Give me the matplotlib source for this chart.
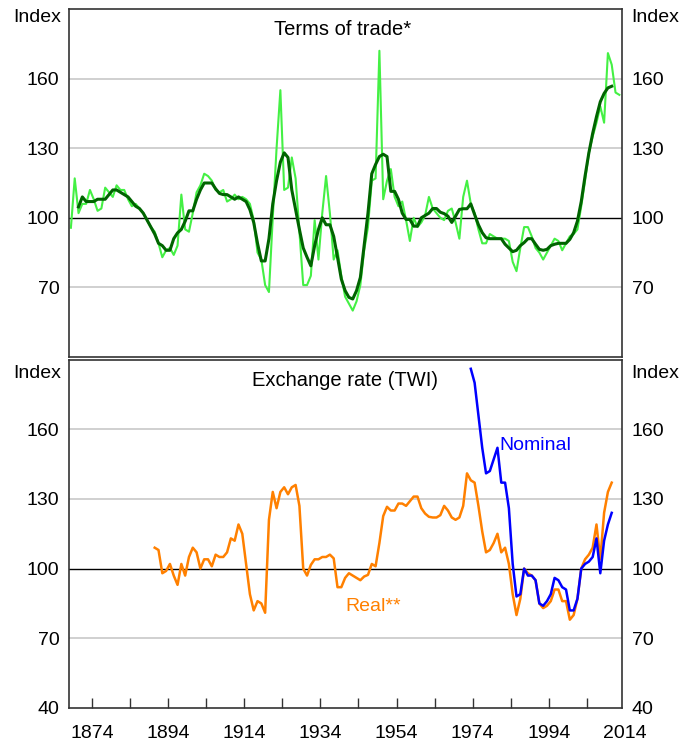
import numpy as np
import matplotlib.pyplot as plt

plt.rcParams['font.family'] = ['Liberation Sans', 'DejaVu Sans']

# Terms of trade, annual, 1869-2013
tot_years = list(range(1869, 2014))
tot_annual = [
    95.7, 117, 102, 106, 106, 112, 108, 103, 104, 113,
    111, 109, 114, 112, 112, 108, 105, 106, 104, 102,
    99, 96, 94, 89, 83, 86, 87, 84, 88, 110,
    95, 94, 102, 111, 114, 119, 118, 116, 112, 111,
    112, 107, 108, 110, 108, 109, 108, 106, 99, 85,
    82, 71, 68, 100, 130, 155, 112, 113, 126, 117,
    94, 71, 71, 75, 99, 82, 102, 118, 102, 82,
    86, 75, 66, 63, 60, 64, 71, 86, 96, 116,
    117, 172, 108, 116, 121, 109, 105, 107, 99, 90,
    100, 96, 98, 101, 109, 104, 102, 100, 99, 103,
    104, 98, 91, 109, 116, 106, 102, 95, 89, 89,
    93, 92, 91, 91, 91, 90, 81, 77, 87, 96,
    96, 92, 87, 85, 82, 85, 88, 91, 90, 86,
    89, 92, 93, 95, 105, 116, 128, 135, 141, 148,
    141, 171, 166, 154, 153,
]

# Terms of trade, smoothed, 1871-2011
tot_smooth_years = list(range(1871, 2012))
tot_smooth = [
    104.7, 109, 107, 107, 107, 108, 108, 108, 110, 112,
    112, 111, 110, 109, 107, 105, 104, 102, 99, 96,
    93, 89, 88, 86, 86, 91, 93.5, 95, 98.5, 103,
    103, 108, 112, 115, 115, 115, 112.5, 110.5, 110, 110,
    109, 108, 109, 108, 107, 103.5, 98, 89, 81.4, 81.4,
    91, 106, 116, 124, 128, 126, 112, 103.5, 95, 87,
    83, 79.3, 88, 95, 100, 97, 97, 92, 83, 73.6,
    68.6, 65.7, 65, 68.6, 74.3, 88, 102, 119, 123, 126.4,
    127.4, 126.4, 111.4, 111.4, 108, 102, 99.3, 99.3, 96.4, 96.4,
    100, 101, 102, 104, 104, 102.4, 101.8, 100.7, 98, 100.7,
    103.6, 103.9, 103.9, 106, 101.4, 97, 93.6, 91.4, 91, 91,
    91, 91, 88.6, 87, 85.4, 86, 88, 89.3, 91, 91,
    88.6, 86.4, 86, 86.4, 88, 88.6, 89, 89, 89, 90.7,
    93.6, 98.6, 107, 118, 128, 136.4, 143.6, 150, 153.6, 156,
    156.7,
]

# Exchange rate (TWI), real 1891-2011, nominal 1974-2011
real_years = list(range(1891, 2012))
real_twi = [
    109, 108, 98, 99, 102, 97, 93, 102, 97, 105,
    109, 107, 100, 104, 104, 101, 106, 105, 105, 107,
    113, 112, 119, 115, 102, 89, 82, 86, 85, 81,
    121, 133, 126, 133, 135, 132, 135, 136, 127, 100,
    97, 101.6, 104, 104, 105, 105, 106, 104.4, 92, 92,
    96, 98, 97, 96, 95, 96.6, 97.3, 102, 101, 111,
    122.6, 126.6, 125, 125, 128, 128, 127, 129, 131, 131,
    126, 123.7, 122.3, 122, 122, 123, 127, 125, 122, 121,
    122, 127, 141, 138, 137, 127, 116, 107, 108, 111,
    115, 107, 109, 102, 89, 80, 87, 100, 98, 97,
    95, 85, 83, 84, 86, 91, 91, 86, 86, 78,
    80, 87, 100, 104, 106, 109, 119, 104, 124, 133,
    137,
]

nominal_years = list(range(1974, 2012))
nominal_twi = [
    186, 180, 166, 152, 141, 142, 147, 152, 137, 137,
    126, 102, 88, 89, 100, 97, 97, 95, 85, 84,
    86, 89, 96, 95, 92, 91, 82, 82, 87, 100,
    102, 103, 105, 113, 98, 112, 119, 124,
]

assert len(tot_years) == len(tot_annual)
assert len(tot_smooth_years) == len(tot_smooth)
assert len(real_years) == len(real_twi)
assert len(nominal_years) == len(nominal_twi)

yticks_top = [70, 100, 130, 160]
yticks_bottom = [40, 70, 100, 130, 160]
xtick_labels = [1874, 1894, 1914, 1934, 1954, 1974, 1994, 2014]

# annual values plotted at mid-year
def mid(years):
    return np.array(years) - 0.5

W, H = 683, 746
fig = plt.figure(figsize=(W / 100, H / 100), dpi=100)
ax1 = fig.add_axes([69 / W, 1 - 357 / H, 553 / W, 348 / H])
ax2 = fig.add_axes([69 / W, 1 - 708 / H, 553 / W, 348.5 / H])

for ax, yt in ((ax1, yticks_top), (ax2, yticks_bottom)):
    ax.set_xlim(1868, 2013.2)
    ax.set_ylim(40, 190)
    for v in yt:
        if v == 100:
            ax.axhline(v, color='black', lw=1.0, zorder=1)
        elif v != 40:
            ax.axhline(v, color='#c4c4c4', lw=1.1, zorder=1)
    ax.set_yticks(yt)
    ax.tick_params(axis='y', length=0, pad=7, labelsize=14,
                   left=False, right=False, labelleft=True, labelright=True)
    for s in ax.spines.values():
        s.set_color('#333333')
        s.set_linewidth(1.2)

ax1.tick_params(axis='x', bottom=False, labelbottom=False)

ticks10 = list(range(1874, 2005, 10))
ax2.set_xticks(ticks10)
ax2.set_xticklabels([str(t) if t in xtick_labels else '' for t in ticks10])
ax2.tick_params(axis='x', direction='in', length=7, width=1, pad=12, labelsize=14,
                color='#333333')
ax2.text(2014, -0.072, '2014', transform=ax2.get_xaxis_transform(), fontsize=14,
         ha='center', va='center', clip_on=False)

# top panel
ax1.plot(mid(tot_years), tot_annual, color='#44f044', lw=1.5, zorder=2)
ax1.plot(mid(tot_smooth_years), tot_smooth, color='#006400', lw=2.2, zorder=3)
ax1.text(0.495, 0.9425, 'Terms of trade*', transform=ax1.transAxes,
         fontsize=14.5, ha='center', va='center')

# bottom panel
ax2.plot(mid(real_years), real_twi, color='#ff8000', lw=1.8, zorder=2)
ax2.plot(mid(nominal_years), nominal_twi, color='#0000ff', lw=1.8, zorder=3)
ax2.text(0.499, 0.941, 'Exchange rate (TWI)', transform=ax2.transAxes,
         fontsize=14.5, ha='center', va='center')
ax2.text(1981.1, 152.8, 'Nominal', color='#0000ff', fontsize=14, ha='left', va='center')
ax2.text(1940.5, 83.9, 'Real**', color='#ff8000', fontsize=14, ha='left', va='center')

for ax, yy in ((ax1, 0.977), (ax2, 0.961)):
    ax.text(-0.0145, yy, 'Index', transform=ax.transAxes, fontsize=14, ha='right', va='center')
    ax.text(1.0165, yy, 'Index', transform=ax.transAxes, fontsize=14, ha='left', va='center')

fig.savefig('out.png', dpi=100)
